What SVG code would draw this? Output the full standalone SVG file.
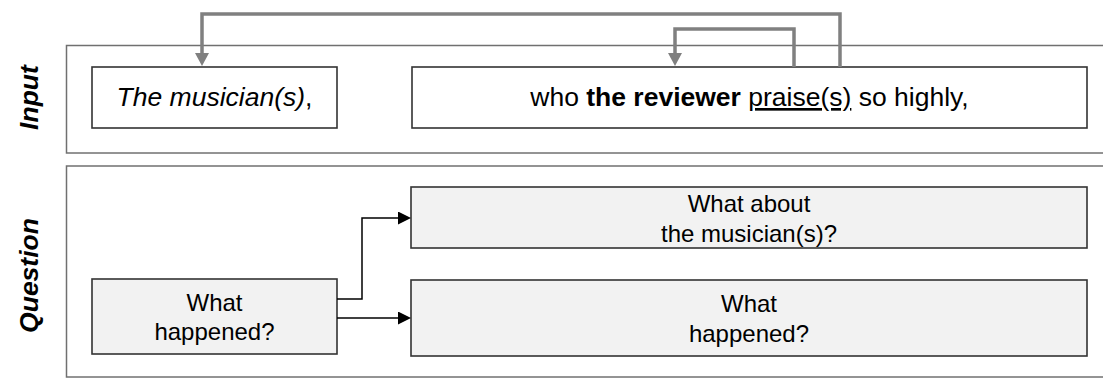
<svg xmlns="http://www.w3.org/2000/svg" width="1103" height="378" viewBox="0 0 1103 378">
  <style>
    .panel { fill: none; stroke: #707070; stroke-width: 1.5; }
    .box { fill: #ffffff; stroke: #333333; stroke-width: 1.6; }
    .qbox { fill: #f2f2f2; stroke: #333333; stroke-width: 1.6; }
    .t { font-family: "Liberation Sans", Arial, sans-serif; fill: #000000; text-anchor: middle; }
    .big { font-size: 26.5px; }
    .q { font-size: 24px; }
    .label { font-family: "Liberation Sans", Arial, sans-serif; font-size: 26.5px; font-weight: bold; font-style: italic; text-anchor: middle; fill: #000000; }
    .gray { fill: none; stroke: #808080; stroke-width: 3.5; stroke-linejoin: miter; }
    .blk { fill: none; stroke: #000000; stroke-width: 1.5; }
  </style>
  <defs>
    <marker id="gh" markerUnits="userSpaceOnUse" markerWidth="13" markerHeight="14" refX="0" refY="7" orient="auto" viewBox="0 0 13 14">
      <path d="M0,0 L13,7 L0,14 Z" fill="#808080"/>
    </marker>
    <marker id="bh" markerUnits="userSpaceOnUse" markerWidth="13" markerHeight="13" refX="0" refY="6.5" orient="auto" viewBox="0 0 13 13">
      <path d="M0,0 L13,6.5 L0,13 Z" fill="#000000"/>
    </marker>
  </defs>

  <g id="panel-input">
    <rect class="panel" x="66.5" y="45.5" width="1100" height="107.5"/>
    <text class="label" transform="translate(38,97.5) rotate(-90)">Input</text>
  </g>
  <g id="panel-question">
    <rect class="panel" x="66.5" y="166" width="1100" height="211"/>
    <text class="label" transform="translate(38,275.5) rotate(-90)">Question</text>
  </g>

  <g id="node-musician">
    <rect class="box" x="92" y="67" width="245" height="61"/>
    <text class="t big" x="214.5" y="106"><tspan font-style="italic">The musician(s)</tspan>,</text>
  </g>
  <g id="node-clause">
    <rect class="box" x="412" y="67" width="675" height="61"/>
    <text class="t big" x="749.5" y="106">who <tspan font-weight="bold">the reviewer</tspan> <tspan text-decoration="underline">praise(s)</tspan> so highly,</text>
  </g>

  <g id="node-q-root">
    <rect class="qbox" x="92" y="279" width="245" height="75"/>
    <text class="t q" x="214.5" y="311">What</text>
    <text class="t q" x="214.5" y="340">happened?</text>
  </g>
  <g id="node-q-about">
    <rect class="qbox" x="411" y="187" width="676" height="61"/>
    <text class="t q" x="749" y="212">What about</text>
    <text class="t q" x="749" y="242">the musician(s)?</text>
  </g>
  <g id="node-q-happened">
    <rect class="qbox" x="411" y="280" width="676" height="76"/>
    <text class="t q" x="749" y="312">What</text>
    <text class="t q" x="749" y="342">happened?</text>
  </g>

  <g id="connectors">
    <path class="gray" d="M840,67 V14 H202 V53" marker-end="url(#gh)"/>
    <path class="gray" d="M794,67 V29 H675 V53" marker-end="url(#gh)"/>
    <path class="blk" d="M337,299 H362 V218 H398" marker-end="url(#bh)"/>
    <path class="blk" d="M337,318 H398" marker-end="url(#bh)"/>
  </g>
</svg>
